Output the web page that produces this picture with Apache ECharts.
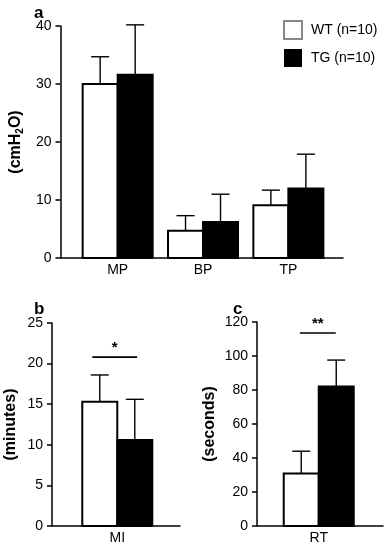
<!DOCTYPE html>
<html><head><meta charset="utf-8">
<script src="https://cdn.jsdelivr.net/npm/echarts@6/dist/echarts.min.js"></script>
<style>html,body{margin:0;padding:0;background:#fff}#c{width:388px;height:545px}</style>
</head><body><div id="c"></div>
<script>
// Panel a
const catsA = ['MP', 'BP', 'TP'];
const wtA = [30.0, 4.7, 9.1];
const tgA = [31.6, 6.2, 12.0];
const wtErrA = [4.7, 2.6, 2.6];
const tgErrA = [8.6, 4.8, 5.9];
const ticksA = [0, 10, 20, 30, 40];
// Panel b
const catsB = ['MI'];
const wtB = [15.3];
const tgB = [10.6];
const wtErrB = [3.3];
const tgErrB = [5.0];
const ticksB = [0, 5, 10, 15, 20, 25];
const sigB = [[-0.39, 0.31, 20.8, '*']];
// Panel c
const catsC = ['RT'];
const wtC = [30.9];
const tgC = [82.0];
const wtErrC = [13.1];
const tgErrC = [15.6];
const ticksC = [0, 20, 40, 60, 80, 100, 120];
const sigC = [[-0.30, 0.27, 113.5, '**']];

const FONT = '"Liberation Sans", Arial, Helvetica, sans-serif';
const BAR_W = 35;

function barRender(side) {
  return function (params, api) {
    const i = api.value(0), v = api.value(1), e = api.value(2);
    const base = api.coord([i, 0]);
    const top = api.coord([i, v]);
    const etop = api.coord([i, v + e]);
    const x0 = side < 0 ? base[0] - BAR_W : base[0];
    const cx = x0 + BAR_W / 2;
    return {
      type: 'group', children: [
        {type: 'line', shape: {x1: cx, y1: top[1], x2: cx, y2: etop[1]}, style: {stroke: '#000', lineWidth: 1.4}},
        {type: 'line', shape: {x1: cx - 9, y1: etop[1], x2: cx + 9, y2: etop[1]}, style: {stroke: '#000', lineWidth: 1.4}},
        {type: 'rect', shape: {x: x0, y: top[1], width: BAR_W, height: base[1] - top[1]},
         style: {fill: side < 0 ? '#fff' : '#000', stroke: '#000', lineWidth: 2}}
      ]
    };
  };
}
const sigLabels = {sigB: sigB.map(s => s[3]), sigC: sigC.map(s => s[3])};
function sigRender(params, api) {
  const a = api.coord([api.value(0), api.value(2)]);
  const b = api.coord([api.value(1), api.value(2)]);
  return {
    type: 'group', children: [
      {type: 'line', shape: {x1: a[0], y1: a[1], x2: b[0], y2: b[1]}, style: {stroke: '#000', lineWidth: 1.6}},
      {type: 'text', style: {text: sigLabels[params.seriesName][params.dataIndex], x: (a[0] + b[0]) / 2, y: a[1] - 9,
        align: 'center', verticalAlign: 'middle', font: 'bold 15px ' + FONT, fill: '#000'}}
    ]
  };
}

function xAxisDef(idx, min, max, cats) {
  return {
    gridIndex: idx, type: 'value', min: min, max: max,
    axisLine: {onZero: false, lineStyle: {color: '#000', width: 1.5}},
    axisTick: {show: false}, splitLine: {show: false},
    axisLabel: {customValues: cats.map((c, i) => i), formatter: v => cats[Math.round(v)],
      color: '#000', fontSize: 14, fontFamily: FONT, margin: 5}
  };
}
function yAxisDef(idx, ticks, name, nameGap) {
  return {
    gridIndex: idx, type: 'value', min: ticks[0], max: ticks[ticks.length - 1],
    interval: ticks[1] - ticks[0],
    axisLine: {show: true, onZero: false, lineStyle: {color: '#000', width: 1.5}},
    axisTick: {show: true, length: 5, lineStyle: {color: '#000', width: 1.5}},
    splitLine: {show: false},
    axisLabel: {color: '#000', fontSize: 14, fontFamily: FONT, margin: 9},
    name: name, nameLocation: 'middle', nameGap: nameGap, nameRotate: 90,
    nameTextStyle: {color: '#000', fontSize: 16, fontWeight: 'bold', fontFamily: FONT,
      rich: {sub: {fontSize: 10, fontWeight: 'bold', fontFamily: FONT, color: '#000', padding: [0, 0, -8, 0]}}}
  };
}

function barSeries(name, xi, vals, errs, side) {
  return {
    type: 'custom', name: name, xAxisIndex: xi, yAxisIndex: xi,
    itemStyle: side < 0 ? {color: '#fff', borderColor: '#888', borderWidth: 1} : {color: '#000'},
    renderItem: barRender(side), encode: {x: 0, y: 1},
    data: vals.map((v, i) => [i, v, errs[i]]), clip: false
  };
}

const chart = echarts.init(document.getElementById('c'), null, {renderer: 'canvas'});
chart.setOption({
  animation: false,
  backgroundColor: '#fff',
  title: [
    {text: 'a', left: 29, top: 0, textStyle: {fontSize: 17, fontWeight: 'bold', fontFamily: FONT, color: '#000'}},
    {text: 'b', left: 29, top: 296, textStyle: {fontSize: 17, fontWeight: 'bold', fontFamily: FONT, color: '#000'}},
    {text: 'c', left: 228, top: 296, textStyle: {fontSize: 17, fontWeight: 'bold', fontFamily: FONT, color: '#000'}}
  ],
  legend: {
    orient: 'vertical', left: 278, top: 15, itemWidth: 18, itemHeight: 18, itemGap: 9,
    icon: 'rect', data: ['WT (n=10)', 'TG (n=10)'],
    textStyle: {fontSize: 14, fontFamily: FONT, color: '#000', padding: [0, 0, 0, 4]}
  },
  grid: [
    {left: 53, right: 45, top: 26, bottom: 287},
    {left: 52, right: 208, top: 323, bottom: 18},
    {left: 257, right: 5, top: 322, bottom: 19}
  ],
  xAxis: [
    xAxisDef(0, -0.67, 2.64, catsA),
    xAxisDef(1, -1.02, 0.98, catsB),
    xAxisDef(2, -0.98, 1.02, catsC)
  ],
  yAxis: [
    yAxisDef(0, ticksA, '(cmH{sub|2}O)', 33),
    yAxisDef(1, ticksB, '(minutes)', 33),
    yAxisDef(2, ticksC, '(seconds)', 39)
  ],
  series: [
    barSeries('WT (n=10)', 0, wtA, wtErrA, -1),
    barSeries('TG (n=10)', 0, tgA, tgErrA, 1),
    barSeries('WT (n=10)', 1, wtB, wtErrB, -1),
    barSeries('TG (n=10)', 1, tgB, tgErrB, 1),
    barSeries('WT (n=10)', 2, wtC, wtErrC, -1),
    barSeries('TG (n=10)', 2, tgC, tgErrC, 1),
    {type: 'custom', name: 'sigB', xAxisIndex: 1, yAxisIndex: 1, renderItem: sigRender,
     encode: {x: [0, 1], y: 2}, data: sigB.map(s => [s[0], s[1], s[2]]), clip: false},
    {type: 'custom', name: 'sigC', xAxisIndex: 2, yAxisIndex: 2, renderItem: sigRender,
     encode: {x: [0, 1], y: 2}, data: sigC.map(s => [s[0], s[1], s[2]]), clip: false}
  ]
});
</script></body></html>
